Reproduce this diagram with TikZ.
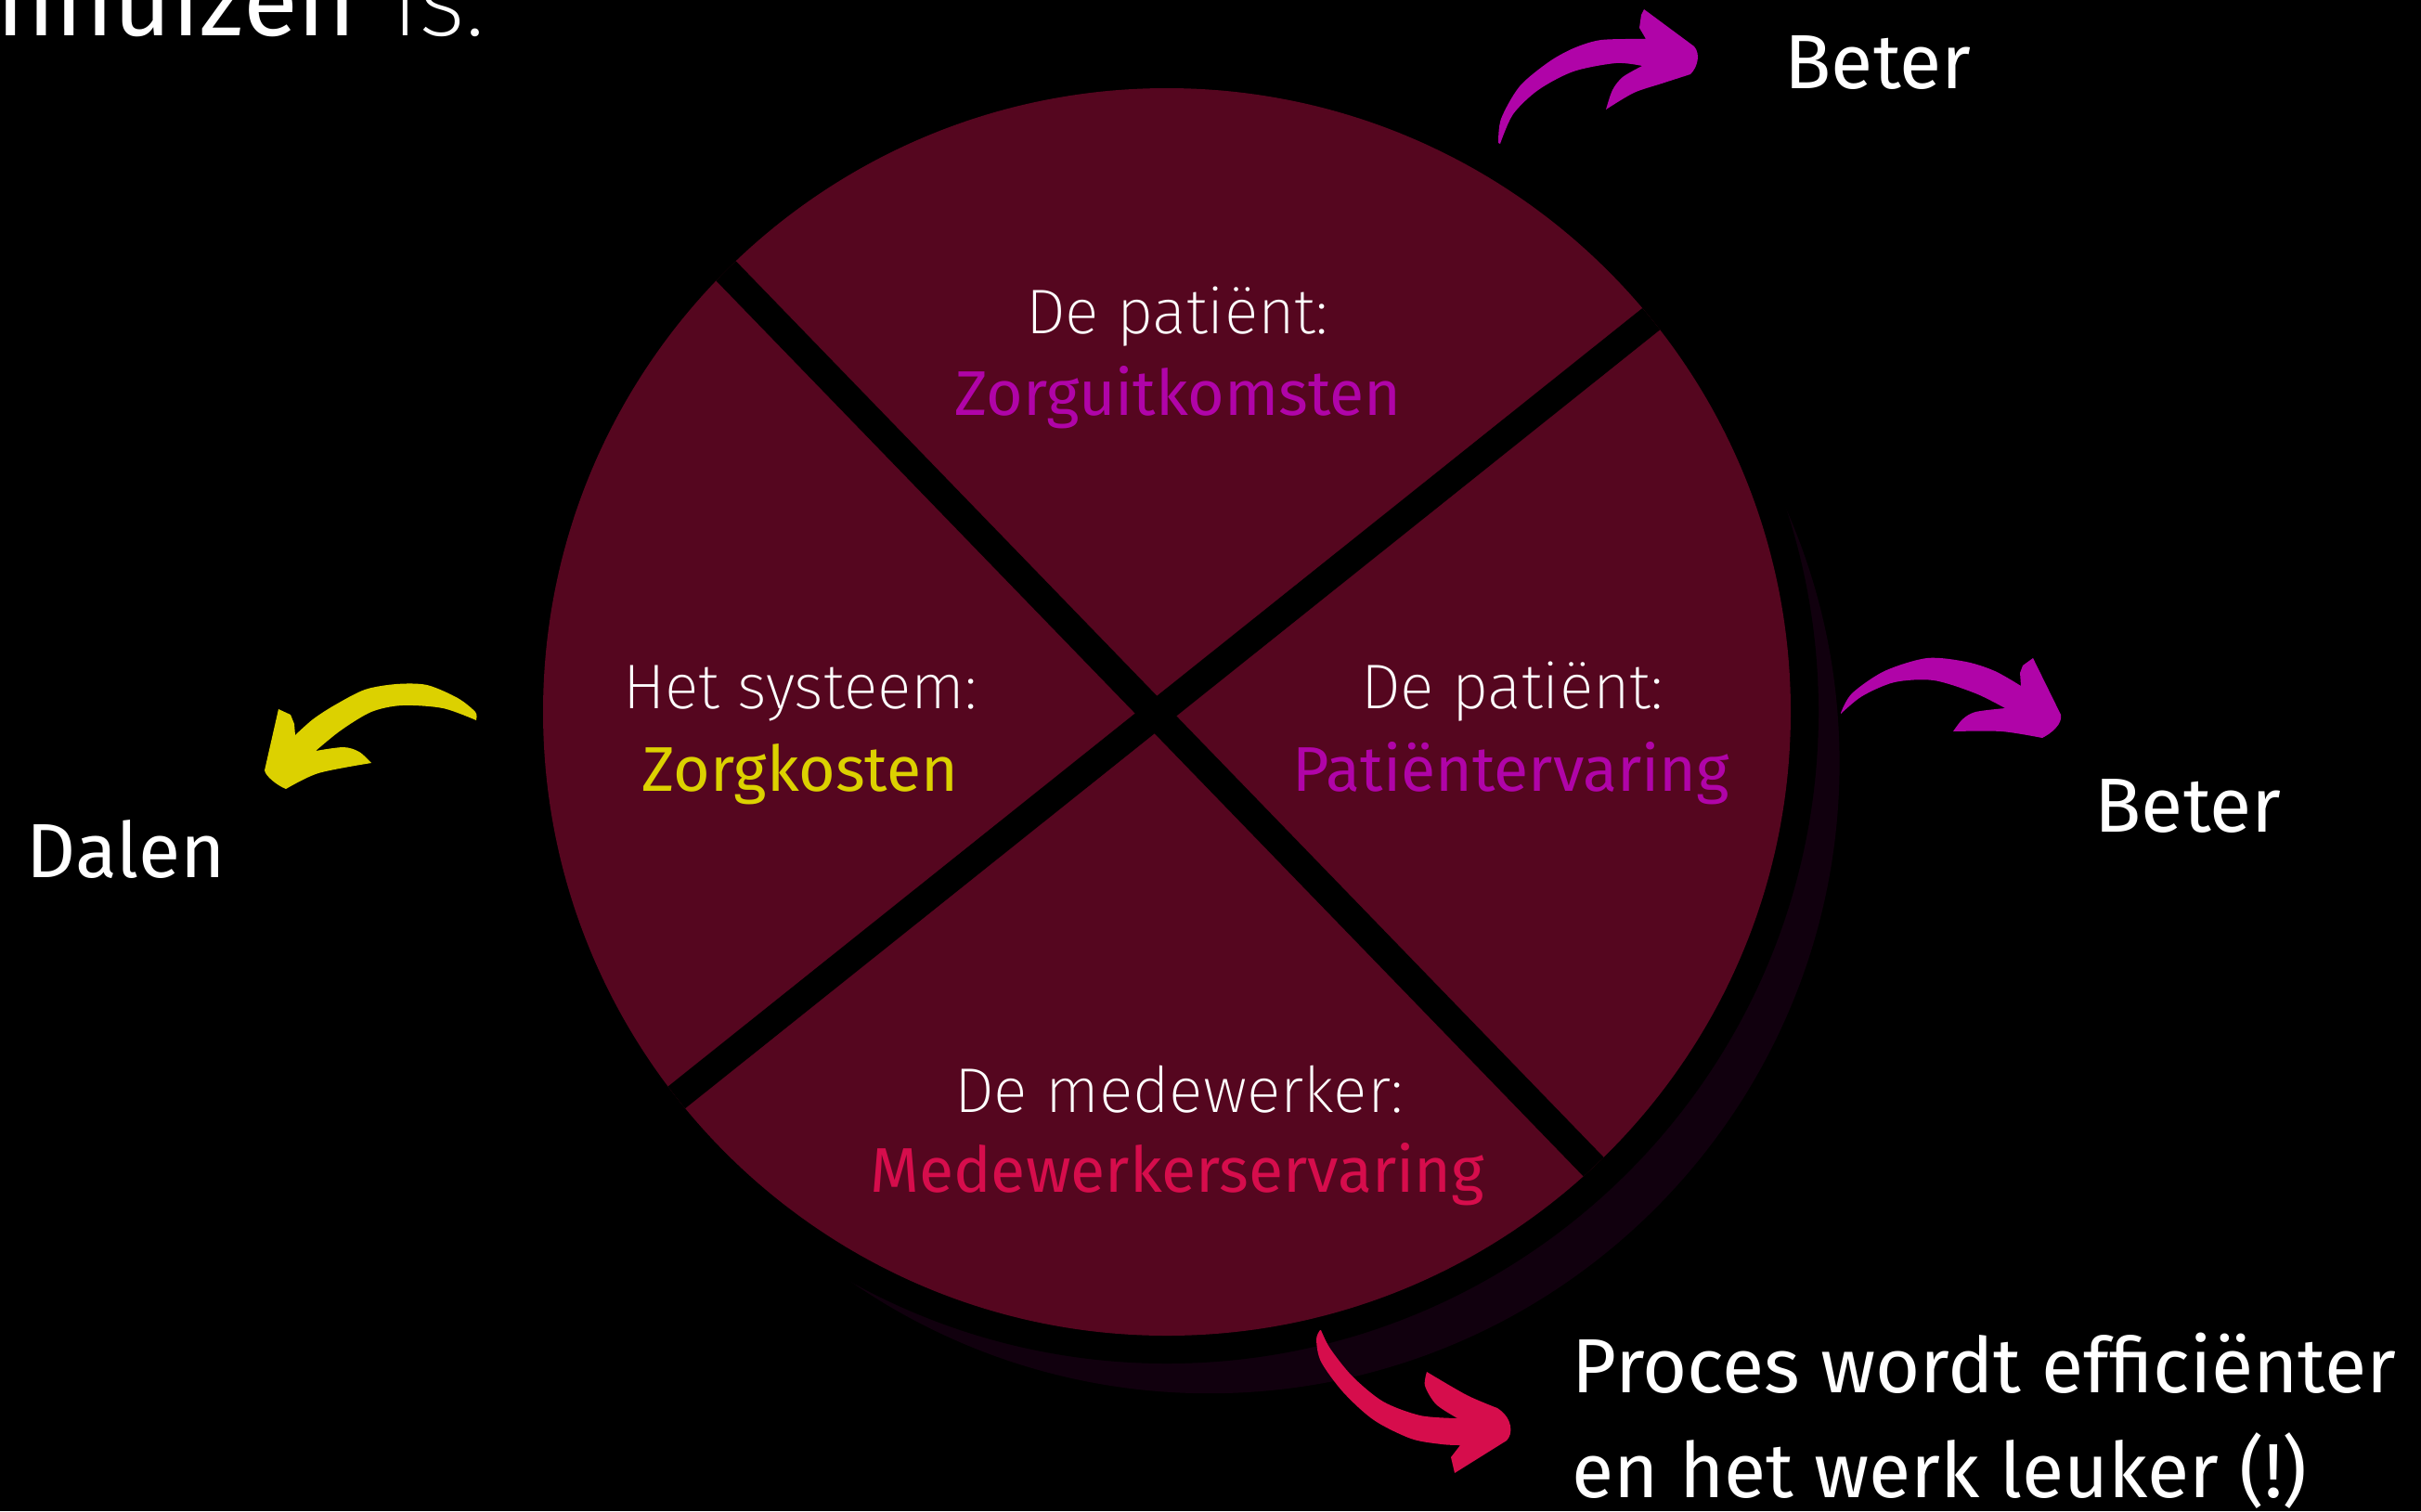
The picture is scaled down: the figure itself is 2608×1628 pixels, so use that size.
\documentclass[tikz,border=0pt]{standalone}
\usepackage{fontspec}
\setmainfont{Fira Sans}
\newfontfamily\thinfont{Fira Sans ExtraLight}
\definecolor{maroon}{HTML}{55061F}
\definecolor{shadowc}{HTML}{11000E}
\definecolor{mag}{HTML}{B004A8}
\definecolor{yel}{HTML}{DCD100}
\definecolor{crim}{HTML}{D60D4C}
\tikzset{
  lbl/.style={inner sep=0pt, anchor=base, text=white},
  big/.style={inner sep=0pt, anchor=base west, text=white, font=\fontsize{24.8}{28}\selectfont},
  thinlbl/.style={lbl, font=\thinfont\fontsize{20.4}{24}\selectfont},
  keylbl/.style={lbl, font=\fontsize{20.4}{24}\selectfont},
  divider/.style={line width=9pt, black}
}
\begin{document}
\begin{tikzpicture}[x=0.3pt,y=-0.3pt]
\fill[black] (0,0) rectangle (2608,1628);
\useasboundingbox (0,0) rectangle (2608,1628);
% circle with shadow and ring
\fill[shadowc] (1302.6,822.2) circle[radius=203.7pt];
\fill[black] (1257,767) circle[radius=210.6pt];
\fill[maroon] (1257,767) circle[radius=201.6pt];
\begin{scope}
  \clip (1257,767) circle[radius=201.6pt];
  \coordinate (c) at (1245,770);
  \coordinate (l1a) at (758,267);
  \coordinate (l1b) at (1732,1273);
  \coordinate (l2a) at (698,1207);
  \coordinate (l2b) at (1792,333);
  \draw[divider] (l1a) -- (l1b);
  \draw[divider] (l2a) -- (l2b);
\end{scope}
% top-left cut text
\node[inner sep=0pt, anchor=base west, text=white, font=\fontsize{32.3}{36}\selectfont] (tl1) at (-4,38) {nnuizen};
\node[inner sep=0pt, anchor=base west, text=white, font=\thinfont\fontsize{32.3}{36}\selectfont] (tl2) at (422,38) {is.};
% labels in the circle
\node[thinlbl] (t1) at (1268,359) {De patiënt:};
\node[keylbl, text=mag] (k1) at (1269,447) {Zorguitkomsten};
\node[thinlbl] (t2) at (862,763) {Het systeem:};
\node[keylbl, text=yel] (k2) at (862,852) {Zorgkosten};
\node[thinlbl] (t3) at (1629,763) {De patiënt:};
\node[keylbl, text=mag] (k3) at (1628,852) {Patiëntervaring};
\node[thinlbl] (t4) at (1270,1198) {De medewerker:};
\node[keylbl, text=crim] (k4) at (1268,1284) {Medewerkerservaring};
% outer labels
\node[big] (beter1) at (1922,95) {Beter};
\node[big] (beter2) at (2256,896) {Beter};
\node[big] (dalen) at (28,945) {Dalen};
\node[big] (proc1) at (1693,1500) {Proces wordt efficiënter};
\node[big] (proc2) at (1693,1613) {en het werk leuker (!)};
% arrows
\fill[mag] plot[smooth] coordinates {(1614,154) (1617,128) (1637,93) (1668,67) (1695,52) (1725,43) (1773,42)}
 -- (1766,30) -- (1768,16) -- (1771,10) -- (1825,50) .. controls (1832,58) and (1829,72) .. (1821,80)
 -- plot[smooth] coordinates {(1821,80) (1790,90) (1760,100) (1730,118)}
 -- plot[smooth] coordinates {(1730,118) (1737,97) (1748,83) (1769,71)}
 -- plot[smooth] coordinates {(1769,71) (1741,68) (1695,77) (1657,97) (1630,123) (1616,155)} -- cycle;
\fill[mag] plot[smooth] coordinates {(1983,768) (1995,747) (2030,723) (2076,709) (2118,713) (2149,723) (2177,739)}
 -- (2176,725) -- (2179,717) -- (2190,709) -- (2220,770) .. controls (2222,780) and (2210,790) .. (2200,795)
 -- plot[smooth] coordinates {(2200,795) (2156,788) (2104,788)}
 -- plot[smooth] coordinates {(2104,788) (2114,775) (2128,767) (2160,763)}
 -- plot[smooth] coordinates {(2160,763) (2128,747) (2083,733) (2041,735) (2006,750) (1983,769)} -- cycle;
\fill[yel] plot[smooth] coordinates {(513,775) (512,767) (493,752) (460,738) (427,737) (393,743) (360,760) (337,775) (318,792)}
 -- (317,780) -- (313,770) -- (300,764) -- (285,830) .. controls (286,836) and (298,846) .. (308,850)
 -- plot[smooth] coordinates {(308,850) (343,833) (400,822)}
 -- plot[smooth] coordinates {(400,822) (387,810) (370,805) (340,809)}
 -- plot[smooth] coordinates {(340,809) (367,787) (400,767) (433,760) (477,763) (513,776)} -- cycle;
\fill[crim] plot[smooth] coordinates {(1422,1433) (1418,1443) (1423,1467) (1447,1500) (1480,1530) (1520,1550) (1553,1556) (1573,1557)}
 -- (1563,1570) -- (1567,1587) -- (1623,1552) .. controls (1630,1545) and (1630,1528) .. (1613,1517)
 -- plot[smooth] coordinates {(1613,1517) (1580,1503) (1537,1478)}
 -- plot[smooth] coordinates {(1537,1478) (1535,1493) (1547,1513) (1570,1528)}
 -- plot[smooth] coordinates {(1570,1528) (1530,1525) (1490,1510) (1457,1483) (1433,1453) (1423,1433)} -- cycle;
\end{tikzpicture}
\end{document}
